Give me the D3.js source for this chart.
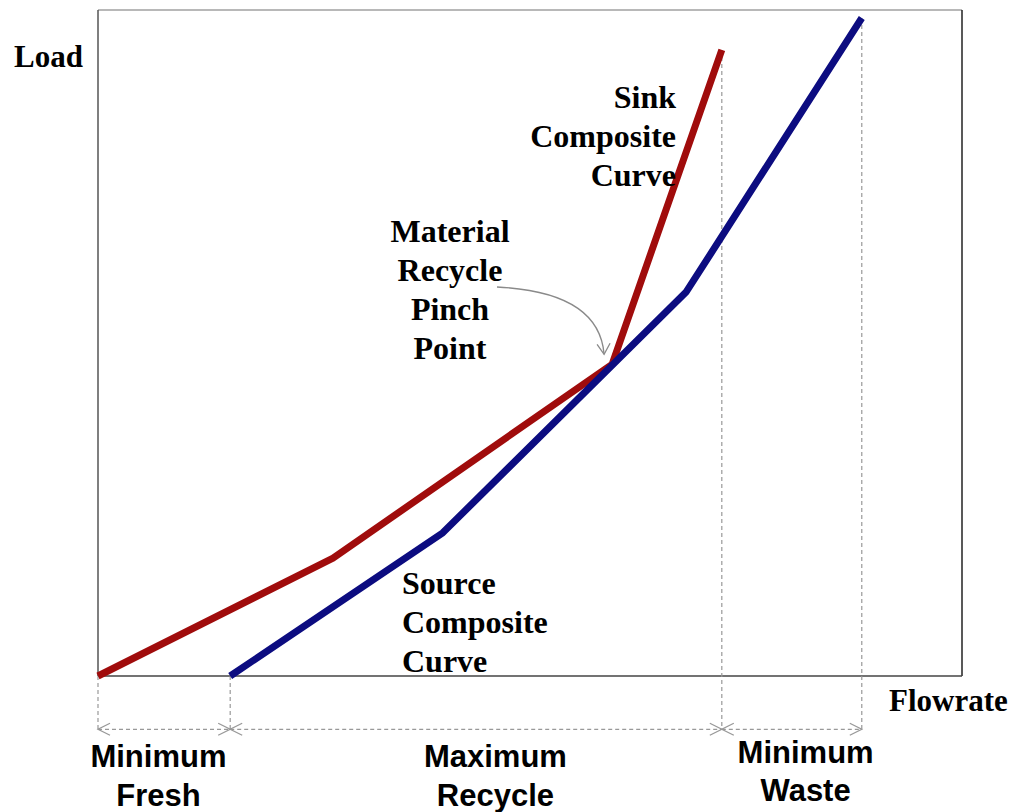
<!DOCTYPE html>
<html><head><meta charset="utf-8">
<script src="https://cdn.jsdelivr.net/npm/d3@7"></script>
<style>body{margin:0;background:#fff}svg{display:block}</style>
</head><body>
<script>
// Data (flowrate %, load %)
const sinkFlow = [0, 27.2, 59.5, 72.2];
const sinkLoad = [0, 17.7, 46.8, 94.0];
const sourceFlow = [15.3, 39.9, 68.1, 88.4];
const sourceLoad = [0, 21.5, 57.7, 98.8];
const spanStarts = [0, 15.3, 72.2];
const spanEnds = [15.3, 72.2, 88.4];
const spanLabels = [["Minimum","Fresh"],["Maximum","Recycle"],["Minimum","Waste"]];
const spanLabelCenters = [7.0, 46.0, 81.9]; // flowrate position of label centre
const sinkLabel = ["Sink","Composite","Curve"];
const pinchLabel = ["Material","Recycle","Pinch","Point"];
const sourceLabel = ["Source","Composite","Curve"];

const W = 1014, H = 812;
const svg = d3.select("body").append("svg").attr("width", W).attr("height", H);
const x = d3.scaleLinear().domain([0, 100]).range([98, 962]);
const y = d3.scaleLinear().domain([0, 100]).range([676, 10]);

// frame
svg.append("line").attr("x1",x(0)).attr("x2",x(100)).attr("y1",y(100)).attr("y2",y(100)).attr("stroke","#a0a0a0").attr("stroke-width",1.5);
svg.append("line").attr("x1",x(0)).attr("x2",x(0)).attr("y1",y(100)).attr("y2",y(0)).attr("stroke","#555").attr("stroke-width",1.5);
svg.append("line").attr("x1",x(100)).attr("x2",x(100)).attr("y1",y(100)).attr("y2",y(0)).attr("stroke","#222").attr("stroke-width",1.5);
svg.append("line").attr("x1",x(0)).attr("x2",x(100)).attr("y1",y(0)).attr("y2",y(0)).attr("stroke","#444").attr("stroke-width",1.5);

const dimY = -8; // level of dimension line
const dash = {stroke:"#999", "stroke-width":1.2, "stroke-dasharray":"4,3"};
function applyAttrs(sel, o){ for (const k in o) sel.attr(k, o[k]); return sel; }

// vertical dashed guides
applyAttrs(svg.append("line").attr("x1",x(0)).attr("x2",x(0)).attr("y1",y(0)).attr("y2",y(dimY)), dash);
applyAttrs(svg.append("line").attr("x1",x(sourceFlow[0])).attr("x2",x(sourceFlow[0])).attr("y1",y(0)).attr("y2",y(dimY)), dash);
applyAttrs(svg.append("line").attr("x1",x(sinkFlow[3])).attr("x2",x(sinkFlow[3])).attr("y1",y(sinkLoad[3])).attr("y2",y(dimY)), dash);
applyAttrs(svg.append("line").attr("x1",x(sourceFlow[3])).attr("x2",x(sourceFlow[3])).attr("y1",y(sourceLoad[3])).attr("y2",y(dimY)), dash);

// dimension arrows
function chevron(px, py, dir){
  const L = 12, h = 6;
  svg.append("path").attr("d", `M${px - dir*L},${py-h} L${px},${py} L${px - dir*L},${py+h}`)
    .attr("fill","none").attr("stroke","#999").attr("stroke-width",1.3);
}
spanStarts.forEach((s,i)=>{
  const e = spanEnds[i];
  applyAttrs(svg.append("line").attr("x1",x(s)).attr("x2",x(e)).attr("y1",y(dimY)).attr("y2",y(dimY)), dash);
  chevron(x(s), y(dimY), -1);
  chevron(x(e), y(dimY), 1);
});

// curves
const line = d3.line().x(d=>x(d[0])).y(d=>y(d[1]));
svg.append("path").datum(sinkFlow.map((f,i)=>[f,sinkLoad[i]]))
  .attr("d", line).attr("fill","none").attr("stroke","#a00c0c").attr("stroke-width",7).attr("stroke-linejoin","round");
svg.append("path").datum(sourceFlow.map((f,i)=>[f,sourceLoad[i]]))
  .attr("d", line).attr("fill","none").attr("stroke","#0c0c80").attr("stroke-width",7).attr("stroke-linejoin","round");

// axis titles
const serif = "'Liberation Serif','Times New Roman',serif";
const sans = "'Liberation Sans',Arial,sans-serif";
svg.append("text").attr("x",14).attr("y",67).text("Load")
  .attr("font-family",serif).attr("font-weight","bold").attr("font-size",31).attr("fill","#000");
svg.append("text").attr("x",889).attr("y",711).text("Flowrate")
  .attr("font-family",serif).attr("font-weight","bold").attr("font-size",31).attr("fill","#000");

function block(lines, px, py0, anchor, family, size, lh){
  const t = svg.append("text").attr("font-family",family).attr("font-weight","bold")
    .attr("font-size",size).attr("fill","#000").attr("text-anchor",anchor);
  lines.forEach((s,i)=> t.append("tspan").attr("x",px).attr("y",py0+i*lh).text(s));
}
block(sinkLabel, 676, 108, "end", serif, 32, 39);
block(pinchLabel, 450, 242, "middle", serif, 32, 39);
block(sourceLabel, 402, 594, "start", serif, 32, 39);

const spanLabelY = [[767,806],[767,806],[763,801]];
spanLabels.forEach((lab,i)=>{
  const cx = x(spanLabelCenters[i]);
  const t = svg.append("text").attr("font-family",sans).attr("font-weight","bold")
    .attr("font-size",31).attr("fill","#000").attr("text-anchor","middle");
  lab.forEach((l,j)=> t.append("tspan").attr("x", cx).attr("y",spanLabelY[i][j]).text(l));
});

// pinch pointer
const pinch = [x(sinkFlow[2]), y(sinkLoad[2])];
const sx = 497, sy = 287, ex = pinch[0]-8, ey = pinch[1]-10;
svg.append("path").attr("d", `M${sx},${sy} Q${ex-5},${sy+5} ${ex},${ey}`)
  .attr("fill","none").attr("stroke","#8a8a8a").attr("stroke-width",1.3);
svg.append("path").attr("d", `M${ex-7},${ey-10} L${ex},${ey} L${ex+6},${ey-11}`)
  .attr("fill","none").attr("stroke","#8a8a8a").attr("stroke-width",1.3);
</script>
</body></html>
